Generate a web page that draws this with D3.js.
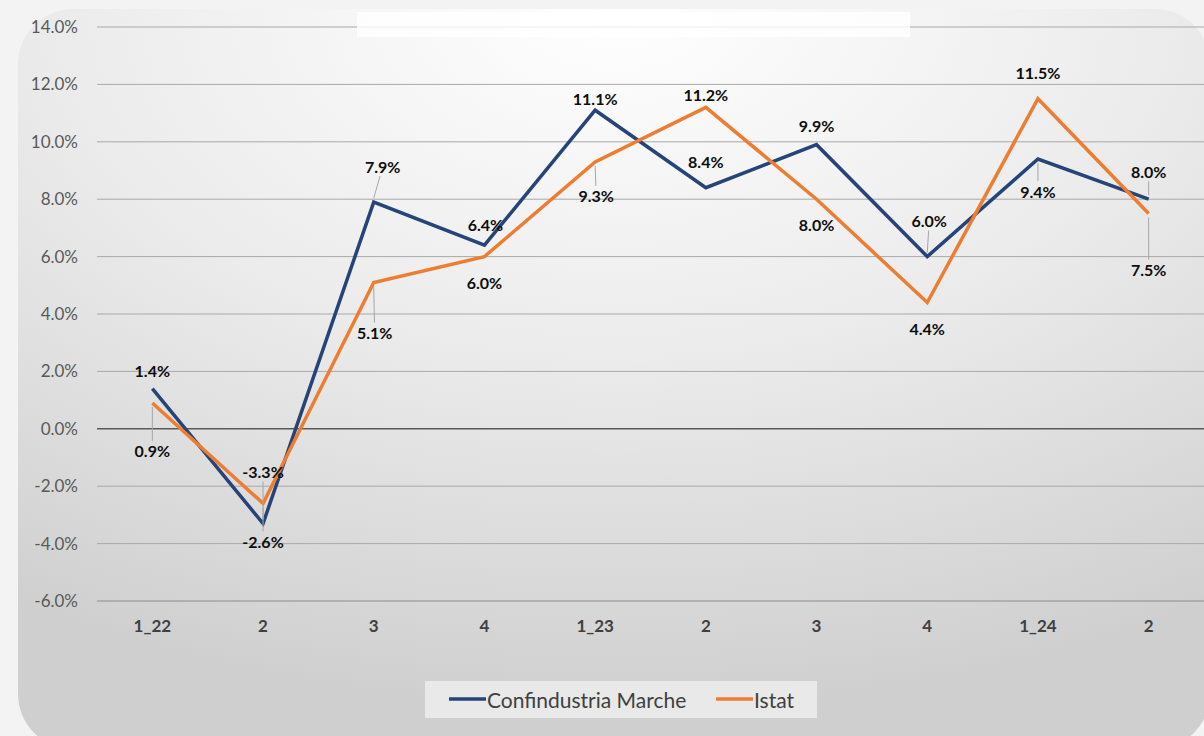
<!DOCTYPE html>
<html>
<head>
<meta charset="utf-8">
<script src="https://cdn.jsdelivr.net/npm/d3@7"></script>
<style>
  body { margin: 0; background: #f3f3f3; }
  svg { display: block; }
  text { font-family: Lato, "Open Sans", sans-serif; }
</style>
</head>
<body>
<svg id="chart" width="1204" height="736"></svg>
<script>
// Quarters along the x axis
const quarters = ["1_22", "2", "3", "4", "1_23", "2", "3", "4", "1_24", "2"];
// Series values, in percent
const confindustria = [1.4, -3.3, 7.9, 6.4, 11.1, 8.4, 9.9, 6.0, 9.4, 8.0];
const istat = [0.9, -2.6, 5.1, 6.0, 9.3, 11.2, 8.0, 4.4, 11.5, 7.5];
// Y axis ticks
const yTicks = [-6, -4, -2, 0, 2, 4, 6, 8, 10, 12, 14];
const seriesNames = ["Confindustria Marche", "Istat"];

// Hand placed label offsets [dx, dy] relative to each point (like the original chart)
const blueLabelPos = [[0,-18],[0,-52],[9,-36],[1,-21],[0,-12],[0,-26],[0,-19],[2,-36],[0,32],[0,-28]];
const orangeLabelPos = [[0,48],[0,38],[1,50],[0,26],[1,34],[0,-13],[0,25],[0,26],[0,-26],[0,56]];

const svg = d3.select("#chart");
const margin = { left: 97, right: 0, top: 27, bottom: 135 };
const W = 1204, H = 736;

// Background panel with radial shading
const defs = svg.append("defs");
const grad = defs.append("radialGradient")
  .attr("id", "bg")
  .attr("cx", "50%").attr("cy", "0%").attr("r", "95%");
grad.append("stop").attr("offset", "0%").attr("stop-color", "#ffffff");
grad.append("stop").attr("offset", "50%").attr("stop-color", "#ebebeb");
grad.append("stop").attr("offset", "100%").attr("stop-color", "#cfcfcf");

svg.append("rect")
  .attr("x", 18).attr("y", 9)
  .attr("width", 1192).attr("height", 740)
  .attr("rx", 55)
  .attr("fill", "url(#bg)");

// Scales
const x = d3.scaleBand()
  .domain(d3.range(quarters.length))
  .range([margin.left, W - margin.right]);

const y = d3.scaleLinear()
  .domain([-6, 14])
  .range([H - margin.bottom, margin.top]);

const cx = (i) => x(i) + x.bandwidth() / 2;

// Gridlines
svg.append("g")
  .selectAll("line")
  .data(yTicks)
  .join("line")
    .attr("x1", margin.left)
    .attr("x2", W - margin.right)
    .attr("y1", (d) => y(d))
    .attr("y2", (d) => y(d))
    .attr("stroke", (d) => d === 0 ? "#595959" : (d === -6 ? "#8c8c8c" : "#a9a9a9"))
    .attr("stroke-width", (d) => d === 0 ? 1.6 : 1);

// Faded box at the top (covered title area)
svg.append("rect")
  .attr("x", 357).attr("y", 12)
  .attr("width", 553).attr("height", 25)
  .attr("fill", "#ffffff")
  .attr("opacity", 0.8);

// Y axis
const yAxis = svg.append("g")
  .attr("transform", `translate(${margin.left},0)`)
  .call(d3.axisLeft(y).tickValues(yTicks).tickSize(0).tickPadding(19)
    .tickFormat((d) => d.toFixed(1) + "%"));
yAxis.select(".domain").remove();
yAxis.selectAll("text")
  .attr("fill", "#595959")
  .style("font-size", "17px");

// X axis
const xAxis = svg.append("g")
  .attr("transform", `translate(0,${y(-6)})`)
  .call(d3.axisBottom(x).tickSize(0).tickPadding(19)
    .tickFormat((i) => quarters[i]));
xAxis.select(".domain").remove();
xAxis.selectAll("text")
  .attr("fill", "#404040")
  .style("font-size", "17px")
  .style("font-weight", "bold");

// Lines
const line = d3.line()
  .x((d, i) => cx(i))
  .y((d) => y(d));

const series = [
  { name: seriesNames[0], values: confindustria, color: "#264478", pos: blueLabelPos },
  { name: seriesNames[1], values: istat, color: "#ed7d31", pos: orangeLabelPos }
];

series.forEach((s) => {
  svg.append("path")
    .datum(s.values)
    .attr("fill", "none")
    .attr("stroke", s.color)
    .attr("stroke-width", 3.5)
    .attr("stroke-linejoin", "miter")
    .attr("d", line);
});

// Data labels with leader lines where the label is far away
series.forEach((s) => {
  const g = svg.append("g");
  s.values.forEach((v, i) => {
    const px = cx(i), py = y(v);
    const [dx, dy] = s.pos[i];
    const lx = px + dx, ly = py + dy;
    if (Math.abs(dy) > 27) {
      const sgn = Math.sign(dy);
      g.append("line")
        .attr("x1", px)
        .attr("y1", py + sgn * 4)
        .attr("x2", lx - dx * 0.3)
        .attr("y2", ly - sgn * 10)
        .attr("stroke", "#a6a6a6")
        .attr("stroke-width", 1);
    }
    g.append("text")
      .attr("x", lx)
      .attr("y", ly)
      .attr("text-anchor", "middle")
      .attr("dominant-baseline", "central")
      .attr("fill", "#0d0d0d")
      .style("font-size", "16px")
      .style("font-weight", "bold")
      .text(v.toFixed(1) + "%");
  });
});

// Legend
const legend = svg.append("g");
legend.append("rect")
  .attr("x", 425).attr("y", 681)
  .attr("width", 392).attr("height", 37)
  .attr("fill", "#e9e9e9");

const legendX = [449, 716];
series.forEach((s, i) => {
  legend.append("line")
    .attr("x1", legendX[i]).attr("x2", legendX[i] + 37)
    .attr("y1", 699).attr("y2", 699)
    .attr("stroke", s.color)
    .attr("stroke-width", 3.5);
  legend.append("text")
    .attr("x", legendX[i] + 38)
    .attr("y", 699)
    .attr("dominant-baseline", "central")
    .attr("fill", "#404040")
    .style("font-size", "21px")
    .text(s.name);
});
</script>
</body>
</html>
